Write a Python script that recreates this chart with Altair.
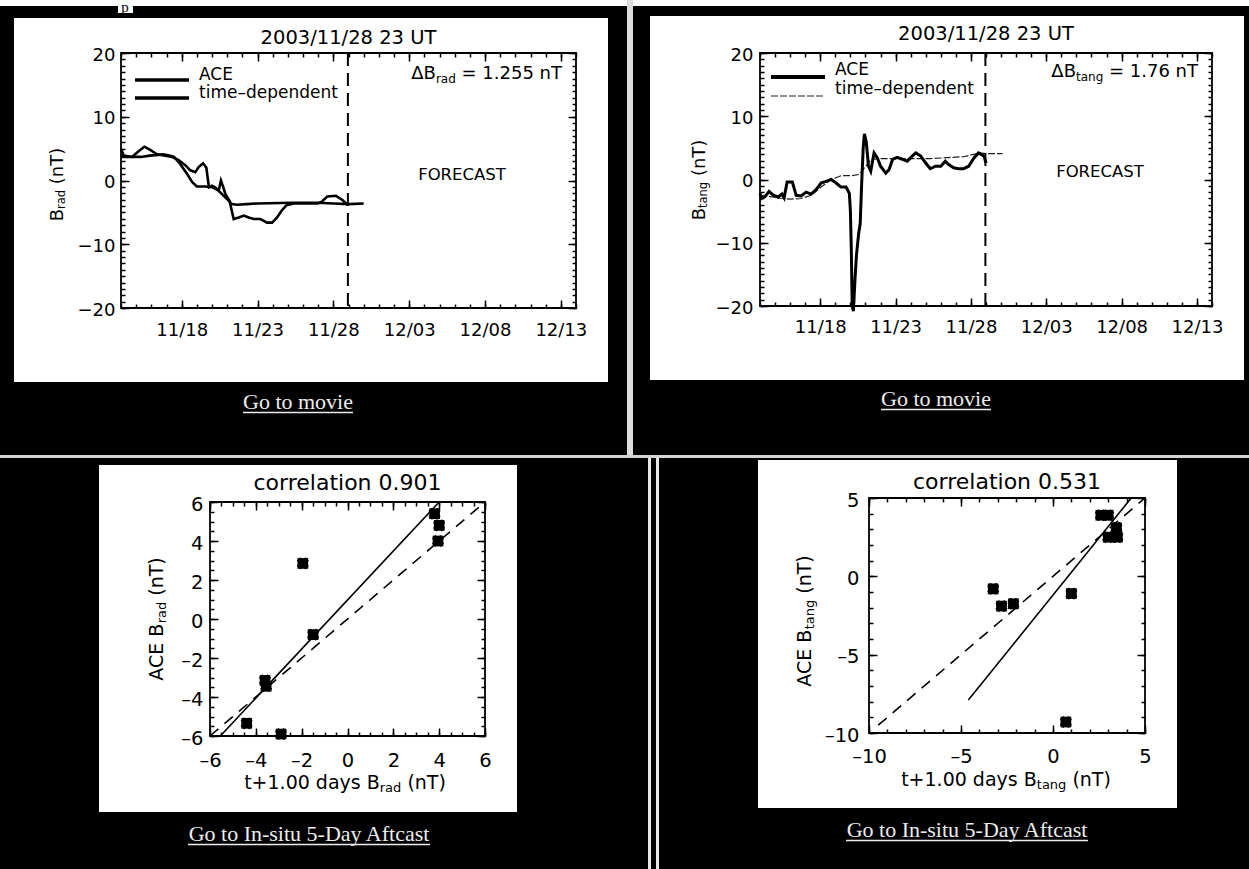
import json
import altair as alt
import pandas as pd

W, H = 1249, 869
SANS = "DejaVu Sans"
SERIF = "Liberation Serif"

# ---------------- values ----------------
NOW_LABEL = "2003/11/28 23 UT"
NOW_DAY = 14.96                       # days after 2003-11-14 00 UT
DAY_DOMAIN = [0, 30]
DATE_TICK_DAYS = [4, 9, 14, 19, 24, 29]
DATE_TICK_LABELS = ["11/18", "11/23", "11/28", "12/03", "12/08", "12/13"]
DAY_MINOR = list(range(0, 31))
B_DOMAIN = [-20, 20]
B_MAJOR = [-20, -10, 0, 10, 20]
B_MINOR = list(range(-20, 21))

BRAD_ACE_DAY = [0.0, 0.18, 0.73, 1.16, 1.54, 1.93, 2.37, 2.92, 3.36, 3.8, 4.24, 4.57, 4.9,
                5.12, 5.41, 5.63, 5.71, 5.8, 6.0, 6.2, 6.44, 6.59, 6.73, 6.88, 7.16, 7.3,
                7.43, 7.76, 8.09, 8.42, 8.75, 9.19, 9.63, 9.96, 10.29, 10.6, 10.9, 11.4,
                12.0, 13.0, 13.25, 13.6, 14.17, 14.6, 14.95]
BRAD_ACE = [5.0, 3.9, 3.7, 4.6, 5.3, 4.8, 4.1, 3.9, 3.7, 3.2, 2.4, 1.6, 1.3,
            2.1, 2.7, 2.0, 0.5, -1.05, -0.8, -1.05, -1.6, 0.0, -0.95, -2.1, -3.2, -4.7,
            -6.05, -5.8, -5.5, -5.8, -6.05, -6.05, -6.6, -6.6, -5.8, -4.7, -3.9, -3.6,
            -3.6, -3.6, -3.3, -2.5, -2.4, -3.05, -3.85]
BRAD_MODEL_DAY = [0.0, 1.3, 1.9, 2.8, 3.25, 3.5, 3.9, 4.35, 4.7, 5.0, 5.56, 6.0, 6.44,
                  6.77, 7.1, 7.3, 7.65, 8.3, 9.0, 11.2, 13.0, 14.0, 15.0, 16.0]
BRAD_MODEL = [3.7, 3.7, 3.9, 4.1, 3.9, 3.7, 2.6, 1.05, -0.26, -0.95, -0.95, -1.05, -1.6,
              -2.4, -3.15, -3.7, -3.8, -3.7, -3.6, -3.5, -3.5, -3.6, -3.7, -3.6]
DELTA_RAD = "1.255"

BTANG_ACE_DAY = [0.0, 0.1, 0.33, 0.6, 0.86, 1.2, 1.45, 1.6, 1.8, 2.15, 2.4, 2.73, 3.06,
                 3.39, 3.72, 4.05, 4.38, 4.72, 5.05, 5.38, 5.71, 5.93, 6.0, 6.06, 6.12,
                 6.2, 6.3, 6.4, 6.55, 6.65, 6.75, 6.85, 6.93, 7.05, 7.2, 7.35, 7.57, 7.79,
                 8.0, 8.35, 8.57, 8.8, 9.1, 9.45, 9.78, 10.1, 10.34, 10.67, 11.0, 11.3,
                 11.65, 12.0, 12.3, 12.5, 12.85, 13.2, 13.5, 13.85, 14.2, 14.5, 14.87, 15.0]
BTANG_ACE = [-2.2, -3.0, -2.7, -1.9, -2.45, -2.8, -2.3, -2.9, -0.4, -0.4, -2.5, -2.6, -2.0,
             -2.3, -1.6, -0.55, -0.3, 0.0, -0.55, -1.2, -1.2, -2.2, -5.0, -11.0, -20.0,
             -20.8, -16.0, -12.0, -8.5, -7.0, -0.5, 5.0, 7.2, 6.0, 2.1, 1.3, 4.2, 3.4,
             2.1, 1.0, 1.6, 3.2, 3.5, 3.2, 2.9, 3.7, 4.2, 3.7, 2.6, 1.7,
             2.1, 2.1, 2.9, 2.4, 1.85, 1.7, 1.7, 2.1, 3.4, 4.2, 3.7, 2.6]
BTANG_MODEL_DAY = [0.0, 0.7, 1.4, 2.0, 2.73, 3.4, 4.05, 4.72, 5.38, 6.04, 6.59, 6.95, 7.4,
                   8.07, 9.1, 11.3, 13.5, 14.6, 15.0, 16.1]
BTANG_MODEL = [-2.5, -2.7, -3.0, -3.1, -3.0, -2.5, -1.2, 0.0, 0.6, 0.6, 0.8, 1.9, 3.2,
               3.3, 3.3, 3.3, 3.6, 4.2, 4.1, 4.1]
DELTA_TANG = "1.76"

CORR_RAD = "0.901"
RAD_DOMAIN = [-6, 6]
RAD_MAJOR = [-6, -4, -2, 0, 2, 4, 6]
RAD_MINOR = [v / 2 for v in range(-12, 13)]
RAD_PRED = [-4.4, -2.9, -3.6, -3.55, -1.95, -1.5, 3.8, 4.0, 3.95]
RAD_OBS = [-5.35, -5.9, -3.15, -3.45, 2.85, -0.8, 5.4, 4.8, 4.0]
RAD_FIT_X = [-5.55, 4.0]
RAD_FIT_Y = [-6.0, 6.0]
RAD_DIAG = [-6.0, 6.0]

CORR_TANG = "0.531"
TANG_DOMAIN = [-10, 5]
TANG_MAJOR = [-10, -5, 0, 5]
TANG_MINOR = list(range(-10, 6))
TANG_PRED = [-3.25, -2.8, -2.15, 1.0, 0.7, 2.6, 3.0, 3.45, 3.5, 3.0]
TANG_OBS = [-0.8, -1.9, -1.75, -1.1, -9.3, 3.9, 3.9, 3.1, 2.5, 2.5]
TANG_FIT_X = [-4.6, 4.25]
TANG_FIT_Y = [-7.9, 5.0]
TANG_DIAG = [-9.5, 5.0]

LINK_MOVIE = "Go to movie"
LINK_AFTCAST = "Go to In-situ 5-Day Aftcast"

# ---------------- text metrics (per em) ----------------
_DJ = {' ': 651, '(': 799, ')': 799, '+': 1716, '.': 651, '/': 690, '=': 1716, '-': 739,
       'A': 1401, 'B': 1405, 'C': 1430, 'E': 1294, 'T': 1251, 'a': 1255, 'd': 1300,
       'g': 1300, 'n': 1298, 'r': 842, 's': 1067, 't': 803, 'y': 1212, 'Δ': 1401}
for _c in "0123456789":
    _DJ[_c] = 1303
SANS_W = {k: v / 2048 for k, v in _DJ.items()}
SERIF_W = {'G': .722, 'o': .5, ' ': .25, 't': .278, 'm': .778, 'v': .5, 'i': .278,
           'e': .444, 'I': .333, 'n': .5, '-': .333, 's': .389, 'u': .5, '5': .5,
           'D': .722, 'a': .444, 'y': .5, 'A': .722, 'f': .333, 'c': .444}


def tw(s, size, table=SANS_W):
    return sum(table.get(c, 0.6) for c in s) * size


ONE = pd.DataFrame({"k": [0]})
DASH = "replace(datum.label, '\u2212', '\u2013')"


def rect(x0, y0, x1, y1, color):
    return alt.Chart(ONE).mark_rect(color=color).encode(
        x=alt.value(x0), x2=alt.value(x1), y=alt.value(y0), y2=alt.value(y1))


def hline(x0, x1, y, width, color="black", dash=None):
    kw = dict(color=color, strokeWidth=width)
    if dash:
        kw["strokeDash"] = dash
    return alt.Chart(ONE).mark_rule(**kw).encode(
        x=alt.value(x0), x2=alt.value(x1), y=alt.value(y))


def label(text, x, y, size, font=SANS, align="left", baseline="middle", angle=0,
          color="black"):
    kw = dict(text=text, font=font, fontSize=size, align=align, baseline=baseline,
              color=color)
    if angle:
        kw["angle"] = angle
    return alt.Chart(ONE).mark_text(**kw).encode(x=alt.value(x), y=alt.value(y))


def rich(pieces, x, y, size, sub_size, drop, anchor="left", vertical=False):
    """pieces: list of (text, is_subscript); spaces are advanced, not drawn."""
    total = sum(tw(t, sub_size if s else size) for t, s in pieces)
    start = {"center": -total / 2, "right": -total}.get(anchor, 0)
    out, pos = [], start
    for t, s in pieces:
        fs = sub_size if s else size
        lead = len(t) - len(t.lstrip(" "))
        trail = len(t) - len(t.rstrip(" "))
        pos += lead * SANS_W[' '] * fs
        txt = t.strip(" ")
        if vertical:
            out.append(label(txt, x + (drop if s else 0), y - pos, fs, angle=270))
        else:
            out.append(label(txt, x + pos, y + (drop if s else 0), fs))
        pos += tw(txt, fs) + trail * SANS_W[' '] * fs
    return out


def link(text, cx, base, size=22, color="#ececec"):
    w = tw(text, size, SERIF_W)
    return [label(text, cx, base, size, font=SERIF, align="center",
                  baseline="alphabetic", color=color),
            hline(cx - w / 2, cx + w / 2, base + 3.5, 1.3, color)]


def axis_layers(frame, xs, ys, xdom, ydom, xmaj, xmin, ymaj, ymin, lab_size,
                xpad, ypad, xexpr, yexpr, yoff, lmaj=8, lmin=4):
    fx0, fy0, fx1, fy1 = frame
    common = dict(domain=False, grid=False, title=None, tickColor="black",
                  tickWidth=1.5, labelColor="black", labelFont=SANS,
                  labelFontSize=lab_size, labelFlush=False, labelOverlap=False,
                  zindex=2)

    def ax(orient, values, L, labels, **kw):
        off = {"bottom": fy1 - H - L, "top": -(fy0 + L),
               "left": -(fx0 + L), "right": fx1 - L - W}[orient]
        return alt.Axis(orient=orient, values=values, tickSize=L, offset=off,
                        labels=labels, **common, **kw)

    d = pd.DataFrame({"x": [xdom[0]], "y": [ydom[0]]})
    base = alt.Chart(d).mark_point(opacity=0)
    A = base.encode(
        x=alt.X("x:Q", scale=xs, axis=ax("bottom", xmaj, lmaj, True, labelPadding=xpad,
                                         labelExpr=xexpr)),
        y=alt.Y("y:Q", scale=ys, axis=ax("left", ymaj, lmaj, True, labelPadding=ypad,
                                         labelExpr=yexpr, labelOffset=yoff)))
    B = base.encode(x=alt.X("x:Q", scale=xs, axis=ax("bottom", xmin, lmin, False)),
                    y=alt.Y("y:Q", scale=ys, axis=ax("left", ymin, lmin, False)))
    C = base.encode(x=alt.X("x:Q", scale=xs, axis=ax("top", xmaj, lmaj, False)),
                    y=alt.Y("y:Q", scale=ys, axis=ax("right", ymaj, lmaj, False)))
    D = base.encode(x=alt.X("x:Q", scale=xs, axis=ax("top", xmin, lmin, False)),
                    y=alt.Y("y:Q", scale=ys, axis=ax("right", ymin, lmin, False)))
    return [A, B, C, D]


def frame_box(xdom, ydom, xs, ys):
    d = pd.DataFrame({"x": [xdom[0]], "x2": [xdom[1]], "y": [ydom[0]], "y2": [ydom[1]]})
    return alt.Chart(d).mark_rect(fillOpacity=0, stroke="black", strokeWidth=1.8).encode(
        x=alt.X("x:Q", scale=xs, axis=None), x2="x2:Q",
        y=alt.Y("y:Q", scale=ys, axis=None), y2="y2:Q")


DATE_EXPR = "{}[indexof({}, datum.value)]".format(json.dumps(DATE_TICK_LABELS),
                                                 json.dumps(DATE_TICK_DAYS))


def time_panel(g, ace_d, ace_v, mod_d, mod_v, sub, delta):
    fx0, fy0, fx1, fy1 = g["frame"]
    xs = alt.Scale(domain=DAY_DOMAIN, range=[fx0, fx1], nice=False, zero=False)
    ys = alt.Scale(domain=B_DOMAIN, range=[fy1, fy0], nice=False, zero=False)
    ace = alt.Chart(pd.DataFrame({"d": ace_d, "v": ace_v})).mark_line(
        color="black", strokeWidth=g["ace_w"], clip=True).encode(
        x=alt.X("d:Q", scale=xs, axis=None), y=alt.Y("v:Q", scale=ys, axis=None))
    mkw = dict(color=g["mod_c"], strokeWidth=g["mod_w"], clip=True)
    if g["mod_dash"]:
        mkw["strokeDash"] = g["mod_dash"]
    mod = alt.Chart(pd.DataFrame({"d": mod_d, "v": mod_v})).mark_line(**mkw).encode(
        x=alt.X("d:Q", scale=xs, axis=None), y=alt.Y("v:Q", scale=ys, axis=None))
    now = alt.Chart(pd.DataFrame({"d": [NOW_DAY]})).mark_rule(
        color="black", strokeWidth=2, strokeDash=[13, 7]).encode(
        x=alt.X("d:Q", scale=xs, axis=None), y=alt.value(fy0), y2=alt.value(fy1))
    lx0, lx1, ltx = g["leg_x"]
    (ly1, lt1), (ly2, lt2) = g["leg_y"]
    layers = [rect(*g["panel"], "white"), frame_box(DAY_DOMAIN, B_DOMAIN, xs, ys),
              mod, ace, now,
              label(NOW_LABEL, (fx0 + fx1) / 2, g["title_y"], 19.5, align="center"),
              hline(lx0, lx1, ly1, g["leg_w"][0]),
              hline(lx0, lx1, ly2, g["leg_w"][1], g["mod_c"], g["mod_dash"]),
              label("ACE", ltx, lt1, 17), label("time\u2013dependent", ltx, lt2, 17),
              label("FORECAST", g["fc"][0], g["fc"][1], 16.5, align="center")]
    layers += rich([("\u0394B", False), (sub, True), (" = " + delta + " nT", False)],
                   g["delta"][0], g["delta"][1], 18, 12, 5, anchor="right")
    layers += rich([("B", False), (sub, True), (" (nT)", False)],
                   g["ytitle"][0], g["ytitle"][1], 18, 11.5, 4, anchor="center",
                   vertical=True)
    layers += axis_layers(g["frame"], xs, ys, DAY_DOMAIN, B_DOMAIN, DATE_TICK_DAYS,
                          DAY_MINOR, B_MAJOR, B_MINOR, 18, g["xpad"], g["ypad"],
                          DATE_EXPR, "datum.label", 2, 8, 4)
    return alt.layer(*layers).resolve_axis(x="independent", y="independent")


def scatter_panel(g, pred, obs, fit_x, fit_y, diag, dom, major, minor, sub, corr):
    fx0, fy0, fx1, fy1 = g["frame"]
    xs = alt.Scale(domain=dom, range=[fx0, fx1], nice=False, zero=False)
    ys = alt.Scale(domain=dom, range=[fy1, fy0], nice=False, zero=False)
    X = lambda f: alt.X(f, type="quantitative", scale=xs, axis=None)
    Y = lambda f: alt.Y(f, type="quantitative", scale=ys, axis=None)
    pdf = pd.DataFrame({"p": pred, "o": obs})
    sq = alt.Chart(pdf).mark_point(
        shape="square", filled=True, size=115, color="black", opacity=1).encode(
        x=X("p"), y=Y("o"))
    star = alt.Chart(pdf).mark_point(
        shape="cross", angle=45, filled=True, size=150, color="black", opacity=1).encode(
        x=X("p"), y=Y("o"))
    fit = alt.Chart(pd.DataFrame({"a": fit_x, "b": fit_y})).mark_line(
        color="black", strokeWidth=1.6, clip=True).encode(x=X("a"), y=Y("b"))
    dg = alt.Chart(pd.DataFrame({"a": diag, "b": diag})).mark_line(
        color="black", strokeWidth=1.6, strokeDash=[11, 8], clip=True).encode(
        x=X("a"), y=Y("b"))
    layers = [rect(*g["panel"], "white"), frame_box(dom, dom, xs, ys), dg, fit, sq, star,
              label("correlation " + corr, (fx0 + fx1) / 2, g["title_y"], 22,
                    align="center")]
    layers += rich([("t+1.00 days B", False), (sub, True), (" (nT)", False)],
                   g["xtitle"][0], g["xtitle"][1], 19, 13, 5, anchor="center")
    layers += rich([("ACE B", False), (sub, True), (" (nT)", False)],
                   g["ytitle"][0], g["ytitle"][1], 19, 13, 5, anchor="center",
                   vertical=True)
    layers += axis_layers(g["frame"], xs, ys, dom, dom, major, minor, major, minor, 19.5,
                          g["xpad"], g["ypad"], DASH, DASH, 2, 8, 4)
    return alt.layer(*layers).resolve_axis(x="independent", y="independent")


# ---------------- layout (pixels) ----------------
G_TL = dict(panel=(14, 18, 608, 382), frame=(121, 53, 576, 308), title_y=37.5,
            ace_w=2.6, mod_w=2.6, mod_c="black", mod_dash=None, leg_x=(135, 189, 199),
            leg_y=((80, 74.5), (98, 92.5)), leg_w=(3.5, 3.5), fc=(462, 175),
            delta=(562, 74), ytitle=(58, 184.5), xpad=13, ypad=6)
G_TR = dict(panel=(650, 16, 1244, 380), frame=(760, 53, 1212, 306), title_y=33.5,
            ace_w=3.0, mod_w=1.2, mod_c="#222222", mod_dash=[7, 2],
            leg_x=(771, 825, 835), leg_y=((77, 70), (96, 89)), leg_w=(4, 1.2),
            fc=(1100, 171.7), delta=(1198, 72), ytitle=(699.5, 180), xpad=12, ypad=7)
G_BL = dict(panel=(99, 465, 517, 812), frame=(210, 502, 485, 736), title_y=483,
            xtitle=(345, 783), ytitle=(157, 619), xpad=15, ypad=7)
G_BR = dict(panel=(758, 460, 1177, 808), frame=(869, 498, 1145, 733), title_y=482,
            xtitle=(1006, 780), ytitle=(805, 621), xpad=14, ypad=10)

page = [rect(0, 0, W, 6, "white"),
        rect(118, 0, 133, 13, "white"),
        label("p", 125, 0, 15, font=SERIF, align="center", baseline="top"),
        rect(627, 0, 633, 456, "#dcdcdc"),
        rect(0, 455, W, 458, "#d4d4d4"),
        rect(648, 458, 651, H, "#e6e6e6"),
        rect(656, 458, 659, H, "#e6e6e6")]
page += link(LINK_MOVIE, 298, 409)
page += link(LINK_MOVIE, 936, 406)
page += link(LINK_AFTCAST, 309, 841)
page += link(LINK_AFTCAST, 967, 837)

tl = time_panel(G_TL, BRAD_ACE_DAY, BRAD_ACE, BRAD_MODEL_DAY, BRAD_MODEL, "rad", DELTA_RAD)
tr = time_panel(G_TR, BTANG_ACE_DAY, BTANG_ACE, BTANG_MODEL_DAY, BTANG_MODEL, "tang",
                DELTA_TANG)
bl = scatter_panel(G_BL, RAD_PRED, RAD_OBS, RAD_FIT_X, RAD_FIT_Y, RAD_DIAG, RAD_DOMAIN,
                   RAD_MAJOR, RAD_MINOR, "rad", CORR_RAD)
br = scatter_panel(G_BR, TANG_PRED, TANG_OBS, TANG_FIT_X, TANG_FIT_Y, TANG_DIAG,
                   TANG_DOMAIN, TANG_MAJOR, TANG_MINOR, "tang", CORR_TANG)

chart = alt.layer(*page, tl, tr, bl, br).resolve_scale(
    x="independent", y="independent").properties(
    width=W, height=H, background="black", padding=0, autosize="none"
).configure_view(stroke="transparent")

chart.save("out.html", embed_options={"renderer": "svg", "actions": False})
